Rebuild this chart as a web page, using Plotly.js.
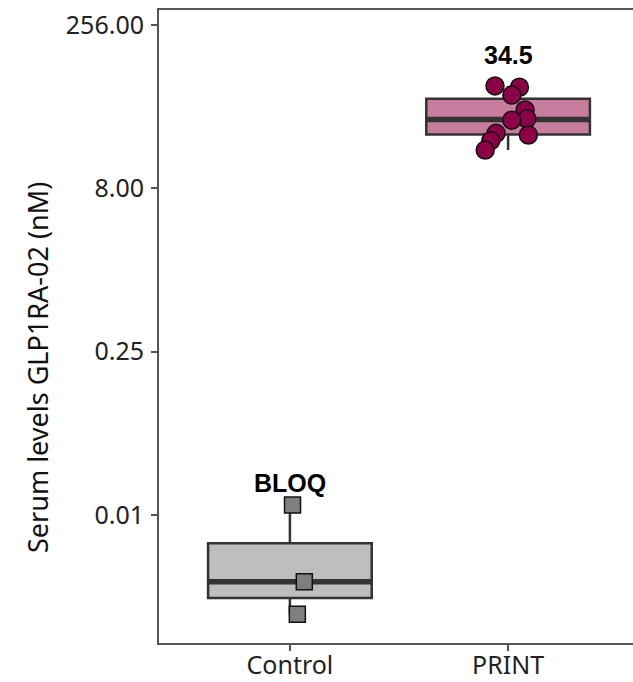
<!DOCTYPE html>
<html>
<head>
<meta charset="utf-8">
<script src="https://cdn.plot.ly/plotly-3.0.1.min.js"></script>
<style>
html,body{margin:0;padding:0;overflow:hidden;background:#fff;}
#chart{width:640px;height:682px;}
</style>
</head>
<body>
<div id="chart"></div>
<script>
// ---- data ----
const groups = ['Control', 'PRINT'];
const controlValues = [0.00966, 0.00190, 0.00095];
const controlJitter = [0.012, 0.066, 0.034];
const printValues = [70.2, 68.3, 57.9, 42.2, 35.0, 34.0, 25.7, 24.8, 22.0, 18.0];
const printJitter = [-0.060, 0.052, 0.017, 0.078, 0.086, 0.017, -0.055, 0.093, -0.079, -0.105];
const groupLabels = ['BLOQ', '34.5'];
const labelValues = [0.0155, 135];
const yTickVals = [256, 8, 0.25, 0.0078125];
const yTickText = ['256.00', '8.00', '0.25', '0.01'];
const yTitle = 'Serum levels GLP1RA-02 (nM)';

// ---- box statistics (ggplot-style, computed on log2 scale, type-7 quantiles) ----
function stats(vals) {
  const s = vals.map(v => Math.log2(v)).sort((a, b) => a - b);
  const n = s.length;
  const q = p => { const h = (n - 1) * p, lo = Math.floor(h); return lo + 1 < n ? s[lo] + (h - lo) * (s[lo + 1] - s[lo]) : s[lo]; };
  const q1 = q(0.25), med = q(0.5), q3 = q(0.75), iqr = q3 - q1;
  const lowF = Math.min(...s.filter(v => v >= q1 - 1.5 * iqr));
  const upF = Math.max(...s.filter(v => v <= q3 + 1.5 * iqr));
  const p2 = v => Math.pow(2, v);
  return {q1: p2(q1), med: p2(med), q3: p2(q3), lo: p2(lowF), hi: p2(upF)};
}

const fills = ['#BEBEBE', '#C77D9E'];
const pointFill = ['#7F7F7F', '#8B0046'];
const pointSym = ['square', 'circle'];
const pointSize = [16, 18];
const allVals = [controlValues, printValues];
const allJit = [controlJitter, printJitter];
const boxW = 0.75;

const traces = [];
allVals.forEach((vals, i) => {
  const st = stats(vals);
  const xc = i + 1;
  traces.push({
    type: 'box', x: [xc], q1: [st.q1], median: [st.med], q3: [st.q3],
    lowerfence: [st.lo], upperfence: [st.hi], width: boxW,
    fillcolor: fills[i], line: {color: '#333333', width: 2.5},
    whiskerwidth: 0, boxpoints: false, showlegend: false, hoverinfo: 'skip'
  });
});
allVals.forEach((vals, i) => {
  const st = stats(vals);
  const xc = i + 1;
  traces.push({
    type: 'scatter', mode: 'lines', x: [xc - boxW / 2, xc + boxW / 2], y: [st.med, st.med],
    line: {color: '#333333', width: 5.5}, showlegend: false, hoverinfo: 'skip'
  });
});
allVals.forEach((vals, i) => {
  traces.push({
    type: 'scatter', mode: 'markers',
    x: vals.map((v, k) => i + 1 + allJit[i][k]), y: vals,
    marker: {symbol: pointSym[i], size: pointSize[i], color: pointFill[i], line: {color: '#111111', width: 1.5}},
    showlegend: false, hoverinfo: 'skip'
  });
});

const annotations = groupLabels.map((t, i) => ({
  x: i + 1, y: Math.log10(labelValues[i]), xref: 'x', yref: 'y',
  text: '<b>' + t + '</b>', showarrow: false, yanchor: 'middle',
  font: {family: 'Liberation Sans, Arial, sans-serif', size: 25, color: '#000'}
}));
annotations.push({
  text: yTitle, textangle: -90, showarrow: false,
  xref: 'paper', yref: 'paper', x: (37 - 159) / 480, y: (643 - 368) / 633,
  xanchor: 'center', yanchor: 'middle',
  font: {family: 'Noto Sans, sans-serif', size: 27, color: '#111'}
});

const layout = {
  width: 640, height: 682,
  margin: {l: 159, r: 1, t: 10, b: 39},
  paper_bgcolor: '#fff', plot_bgcolor: '#fff',
  font: {family: 'Noto Sans, sans-serif', color: '#222'},
  xaxis: {
    range: [0.4, 2.6], tickvals: [1, 2], ticktext: groups,
    showgrid: false, zeroline: false, showline: true, mirror: true,
    linecolor: '#555555', linewidth: 2, ticks: 'outside', ticklen: 6, tickwidth: 2, tickcolor: '#555555',
    tickfont: {size: 25, color: '#222'}, ticklabelstandoff: -7
  },
  yaxis: {
    type: 'log', range: [Math.log10(Math.pow(2, -10.918)), Math.log10(Math.pow(2, 8.459))],
    tickvals: yTickVals, ticktext: yTickText,
    showgrid: false, zeroline: false, showline: true, mirror: true,
    linecolor: '#555555', linewidth: 2, ticks: 'outside', ticklen: 6, tickwidth: 2, tickcolor: '#555555',
    tickfont: {size: 25, color: '#222'}, ticklabelstandoff: 2
  },
  annotations: annotations
};

Plotly.newPlot('chart', traces, layout, {staticPlot: true, displayModeBar: false});
</script>
</body>
</html>
